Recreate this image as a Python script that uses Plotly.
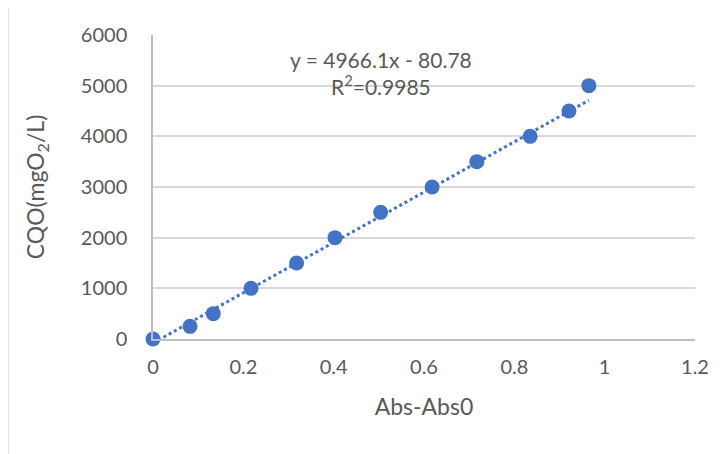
import numpy as np
import plotly.graph_objects as go

abs_diff = [0, 0.082, 0.1335, 0.217, 0.318, 0.403, 0.504, 0.618, 0.717, 0.835, 0.921, 0.965]
cqo = [0, 250, 500, 1000, 1500, 2000, 2500, 3000, 3500, 4000, 4500, 5000]
slope = 4966.1
intercept = -80.78
x_ticks = [0, 0.2, 0.4, 0.6, 0.8, 1, 1.2]
y_ticks = [0, 1000, 2000, 3000, 4000, 5000, 6000]

FONT = "Lato, Open Sans, sans-serif"
GREY = "#595959"
BLUE = "#4472C4"

# page has an 8px body margin: figure is drawn at offset (8, 8)
OFF = 8
L, R, T, B = 153 - OFF, 695 - OFF, 35 - OFF, 339 - OFF
W, H = 727 - OFF, 454 - OFF
PW, PH = R - L, B - T

def px(xp):
    return (xp - OFF - L) / PW

def py(yp):
    return (B - (yp - OFF)) / PH

fig = go.Figure()
fig.add_trace(go.Scatter(
    x=abs_diff, y=cqo, mode="markers",
    marker=dict(size=15, color=BLUE), cliponaxis=False, showlegend=False))
tx = np.array([min(abs_diff), max(abs_diff)])
fig.add_trace(go.Scatter(
    x=tx, y=slope * tx + intercept, mode="lines",
    line=dict(color=BLUE, width=3, dash="dot"), showlegend=False))

fig.update_layout(
    width=W, height=H,
    margin=dict(l=L, r=W - R, t=T, b=H - B, autoexpand=False),
    paper_bgcolor="white", plot_bgcolor="white",
    font=dict(family=FONT, size=20, color=GREY),
    xaxis=dict(range=[0, 1.2], tickvals=x_ticks, ticktext=[str(v) for v in x_ticks],
               showgrid=False, zeroline=False, showline=True, linecolor="#bfbfbf", linewidth=1.5,
               ticks="outside", ticklen=9, tickcolor="rgba(0,0,0,0)",
               tickfont=dict(size=20, color=GREY),
               title=dict(text="Abs-Abs0", standoff=22, font=dict(size=23, color=GREY))),
    yaxis=dict(range=[0, 6000], tickvals=y_ticks, ticktext=[str(v) for v in y_ticks],
               showgrid=True, gridcolor="#d9d9d9", gridwidth=1.5, zeroline=False,
               showline=True, linecolor="#bfbfbf", linewidth=1.5,
               ticks="outside", ticklen=20, tickcolor="rgba(0,0,0,0)",
               tickfont=dict(size=20, color=GREY),
               title=dict(text="CQO(mgO<sub>2</sub>/L)", standoff=30, font=dict(size=23, color=GREY))),
    annotations=[
        dict(xref="paper", yref="paper", x=px(381), y=py(73), xanchor="center", yanchor="middle",
             text="y = 4966.1x - 80.78<br>R<sup>2</sup>=0.9985", align="center",
             showarrow=False, font=dict(size=21, color=GREY)),
    ],
    shapes=[dict(type="rect", xref="paper", yref="paper",
                 x0=px(8), x1=px(760), y0=py(480), y1=py(-20),
                 line=dict(color="#d9d9d9", width=1.5), layer="below")],
)
fig.write_html("out.html")
